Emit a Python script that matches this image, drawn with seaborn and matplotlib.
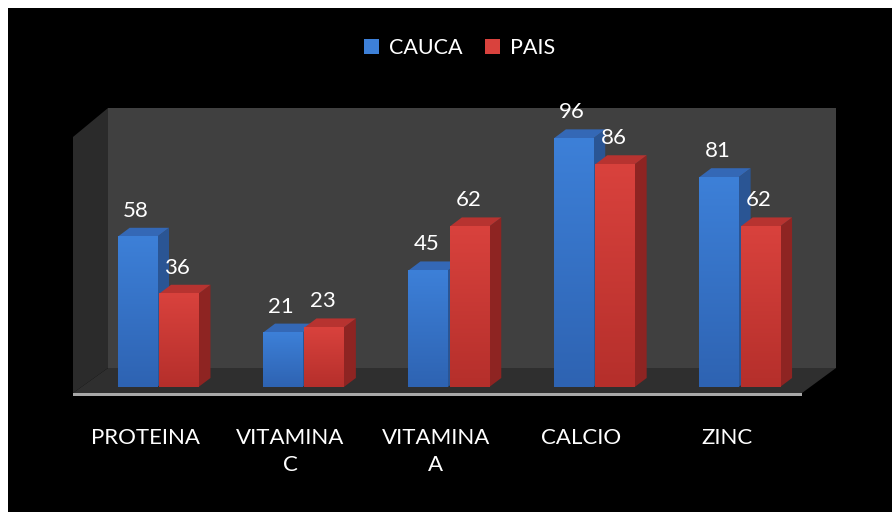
import numpy as np
import pandas as pd
import matplotlib
matplotlib.use("Agg")
import matplotlib.pyplot as plt
import seaborn as sns
from matplotlib.patches import Polygon, Rectangle
from matplotlib.colors import LinearSegmentedColormap
from matplotlib.transforms import ScaledTranslation

# ---- data ----
categories = ["PROTEINA", "VITAMINA\nC", "VITAMINA\nA", "CALCIO", "ZINC"]
series = ["CAUCA", "PAIS"]
cauca = [58, 21, 45, 96, 81]
pais = [36, 23, 62, 86, 62]

df = pd.DataFrame({
    "cat": categories * 2,
    "serie": [series[0]] * len(categories) + [series[1]] * len(categories),
    "val": cauca + pais,
})

sns.set_theme(style="dark")
plt.rcParams["font.family"] = ["Lato", "DejaVu Sans"]

W, H = 892, 512
fig = plt.figure(figsize=(W / 100, H / 100), dpi=100, facecolor="white")

# background axes in pixel coordinates
bg = fig.add_axes([0, 0, 1, 1], zorder=0)
bg.set_xlim(0, W)
bg.set_ylim(H, 0)
bg.axis("off")
bg.add_patch(Rectangle((8, 8), W - 8, H - 8, fc="black", ec="none"))
bg.add_patch(Rectangle((108, 108), 728, 260, fc="#404040", ec="none"))
bg.add_patch(Polygon([(73, 137), (108, 108), (108, 368), (73, 393)], closed=True,
                     fc="#2b2b2b", ec="none"))
bg.add_patch(Polygon([(73, 393), (108, 368), (836, 368), (802, 393)], closed=True,
                     fc="#2f2f2f", ec="none"))
bg.add_patch(Rectangle((73, 393), 729, 3, fc="#a8a8a8", ec="none"))

# main axes (front plane of bars)
ax = fig.add_axes([81 / W, (H - 387) / H, 727 / W, 259 / H], zorder=1)
ax.set_facecolor("none")

front_top = {"CAUCA": "#3d80d8", "PAIS": "#d9423d"}
front_bot = {"CAUCA": "#2e63b2", "PAIS": "#b52f2b"}
side_col = {"CAUCA": "#2a5594", "PAIS": "#8e2422"}
top_col = {"CAUCA": "#3468b6", "PAIS": "#b73330"}

sns.barplot(data=df, x="cat", y="val", hue="serie", hue_order=series,
            palette=front_top, width=0.57, gap=0.05, saturation=1,
            edgecolor="none", linewidth=0, ax=ax, legend=True)

XL = (-0.53, 4.47)
YL = (0, 100)
ax.set_xlim(*XL)
ax.set_ylim(*YL)

dx = 12 / (727 / 5.0)
dy = 9 / 2.59

grad = np.linspace(1, 0, 256).reshape(-1, 1)
for serie, cont in zip(series, ax.containers):
    cmap = LinearSegmentedColormap.from_list(serie, [front_bot[serie], front_top[serie]])
    for rect in cont.patches:
        x0, w, h = rect.get_x(), rect.get_width(), rect.get_height()
        ax.add_patch(Polygon([(x0 + w, 0), (x0 + w + dx, dy), (x0 + w + dx, h + dy), (x0 + w, h)],
                             closed=True, fc=side_col[serie], ec="none", zorder=2))
        ax.add_patch(Polygon([(x0, h), (x0 + dx, h + dy), (x0 + w + dx, h + dy), (x0 + w, h)],
                             closed=True, fc=top_col[serie], ec="none", zorder=2))
        rect.set_zorder(3)
        ax.imshow(grad, extent=[x0, x0 + w, 0, h], cmap=cmap, aspect="auto",
                  zorder=3.1, interpolation="bilinear")
        ax.annotate(f"{int(round(h))}", xy=(x0 + w / 2, h), xytext=(-1, 14.4),
                    textcoords="offset points", ha="center", va="baseline",
                    color="white", fontsize=16, zorder=5)

ax.set_xlim(*XL)
ax.set_ylim(*YL)
ax.set_xlabel("")
ax.set_ylabel("")
ax.set_yticks([])
for s in ax.spines.values():
    s.set_visible(False)
ax.grid(False)
ax.tick_params(axis="x", length=0, pad=29.5, colors="white", labelsize=16)
shift = ScaledTranslation(-13 / 100, 0, fig.dpi_scale_trans)
for lab in ax.get_xticklabels():
    lab.set_transform(lab.get_transform() + shift)
    lab.set_linespacing(1.45)

sns.move_legend(ax, "center", bbox_to_anchor=(459.5 / W, 1 - 48 / H),
                bbox_transform=fig.transFigure, ncol=2, frameon=False, title=None,
                fontsize=15.5, handlelength=0.68, handleheight=0.75,
                handletextpad=0.48, columnspacing=1.05, labelcolor="white")

fig.savefig("out.png", dpi=100, facecolor="white")
